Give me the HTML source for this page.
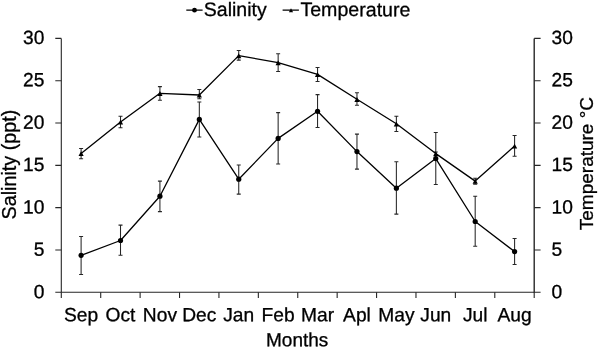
<!DOCTYPE html><html><head><meta charset="utf-8"><title>Salinity and Temperature</title>
<style>html,body{margin:0;padding:0;background:#fff}svg{display:block}text{font-family:"Liberation Sans",Arial,sans-serif;font-size:18.8px;fill:#000;stroke:#000;stroke-width:0.3px}</style></head><body>
<svg width="600" height="350" viewBox="0 0 600 350">
<rect width="600" height="350" fill="#fff"/>
<g stroke="#262626" stroke-width="1.1" fill="none">
<path d="M61.3 38.4 V292.3 H534.2"/>
<path d="M534.2 292.8 V38.4" stroke="#181818" stroke-width="1.3"/>
<path d="M55.3 292.3 H61.3 M534.2 292.3 H540.6"/>
<path d="M55.3 249.983 H61.3 M534.2 249.983 H540.6"/>
<path d="M55.3 207.667 H61.3 M534.2 207.667 H540.6"/>
<path d="M55.3 165.35 H61.3 M534.2 165.35 H540.6"/>
<path d="M55.3 123.033 H61.3 M534.2 123.033 H540.6"/>
<path d="M55.3 80.7167 H61.3 M534.2 80.7167 H540.6"/>
<path d="M55.3 38.4 H61.3 M534.2 38.4 H540.6"/>
<path d="M61.3 292.3 V298"/>
<path d="M100.708 292.3 V298"/>
<path d="M140.117 292.3 V298"/>
<path d="M179.525 292.3 V298"/>
<path d="M218.933 292.3 V298"/>
<path d="M258.342 292.3 V298"/>
<path d="M297.75 292.3 V298"/>
<path d="M337.158 292.3 V298"/>
<path d="M376.567 292.3 V298"/>
<path d="M415.975 292.3 V298"/>
<path d="M455.383 292.3 V298"/>
<path d="M494.792 292.3 V298"/>
<path d="M534.2 292.3 V298"/>
</g>
<g stroke="#262626" stroke-width="1.05" fill="none">
<path d="M81.1042 236.4 V274.4 M79.1042 236.4 H83.1042 M79.1042 274.4 H83.1042"/>
<path d="M120.513 225.1 V255.3 M118.513 225.1 H122.513 M118.513 255.3 H122.513"/>
<path d="M159.921 181.1 V211.6 M157.921 181.1 H161.921 M157.921 211.6 H161.921"/>
<path d="M199.329 101.9 V136.9 M197.329 101.9 H201.329 M197.329 136.9 H201.329"/>
<path d="M238.738 164.9 V194.1 M236.738 164.9 H240.738 M236.738 194.1 H240.738"/>
<path d="M278.146 112.6 V164 M276.146 112.6 H280.146 M276.146 164 H280.146"/>
<path d="M317.554 94.6 V127.4 M315.554 94.6 H319.554 M315.554 127.4 H319.554"/>
<path d="M356.963 134.1 V169.1 M354.963 134.1 H358.963 M354.963 169.1 H358.963"/>
<path d="M396.371 161.7 V214.1 M394.371 161.7 H398.371 M394.371 214.1 H398.371"/>
<path d="M435.779 132.4 V184.4 M433.779 132.4 H437.779 M433.779 184.4 H437.779"/>
<path d="M475.188 196.3 V246.3 M473.188 196.3 H477.188 M473.188 246.3 H477.188"/>
<path d="M514.596 238.5 V264.4 M512.596 238.5 H516.596 M512.596 264.4 H516.596"/>
<path d="M81.1042 148.4 V158.7 M79.1042 148.4 H83.1042 M79.1042 158.7 H83.1042"/>
<path d="M120.513 116.3 V127.8 M118.513 116.3 H122.513 M118.513 127.8 H122.513"/>
<path d="M159.921 86.6 V100.2 M157.921 86.6 H161.921 M157.921 100.2 H161.921"/>
<path d="M199.329 89.4 V98.7 M197.329 89.4 H201.329 M197.329 98.7 H201.329"/>
<path d="M238.738 50.5 V60.1 M236.738 50.5 H240.738 M236.738 60.1 H240.738"/>
<path d="M278.146 53.8 V71.4 M276.146 53.8 H280.146 M276.146 71.4 H280.146"/>
<path d="M317.554 67.4 V81.5 M315.554 67.4 H319.554 M315.554 81.5 H319.554"/>
<path d="M356.963 92.7 V105.2 M354.963 92.7 H358.963 M354.963 105.2 H358.963"/>
<path d="M396.371 116.3 V131.4 M394.371 116.3 H398.371 M394.371 131.4 H398.371"/>
<path d="M435.779 152 V155.2 M433.779 152 H437.779 M433.779 155.2 H437.779"/>
<path d="M475.188 178.3 V184.3 M473.188 178.3 H477.188 M473.188 184.3 H477.188"/>
<path d="M514.596 135.4 V156.3 M512.596 135.4 H516.596 M512.596 156.3 H516.596"/>
</g>
<polyline points="81.1042,255.3 120.513,240.5 159.921,196.2 199.329,119.4 238.738,179.2 278.146,138.4 317.554,111.3 356.963,151.6 396.371,188.2 435.779,158.6 475.188,221.5 514.596,251.6" fill="none" stroke="#000" stroke-width="1.3" stroke-linejoin="round"/>
<polyline points="81.1042,153.5 120.513,122 159.921,93.3 199.329,95 238.738,55.6 278.146,62.6 317.554,74.4 356.963,99.3 396.371,123.8 435.779,153.6 475.188,181.1 514.596,146" fill="none" stroke="#000" stroke-width="1.3" stroke-linejoin="round"/>
<circle cx="81.1042" cy="255.3" r="2.6" fill="#000"/>
<circle cx="120.513" cy="240.5" r="2.6" fill="#000"/>
<circle cx="159.921" cy="196.2" r="2.6" fill="#000"/>
<circle cx="199.329" cy="119.4" r="2.6" fill="#000"/>
<circle cx="238.738" cy="179.2" r="2.6" fill="#000"/>
<circle cx="278.146" cy="138.4" r="2.6" fill="#000"/>
<circle cx="317.554" cy="111.3" r="2.6" fill="#000"/>
<circle cx="356.963" cy="151.6" r="2.6" fill="#000"/>
<circle cx="396.371" cy="188.2" r="2.6" fill="#000"/>
<circle cx="435.779" cy="158.6" r="2.6" fill="#000"/>
<circle cx="475.188" cy="221.5" r="2.6" fill="#000"/>
<circle cx="514.596" cy="251.6" r="2.6" fill="#000"/>
<path d="M81.1042 151.2 L83.7042 156.1 L78.5042 156.1 Z" fill="#000"/>
<path d="M120.513 119.7 L123.112 124.6 L117.913 124.6 Z" fill="#000"/>
<path d="M159.921 91 L162.521 95.9 L157.321 95.9 Z" fill="#000"/>
<path d="M199.329 92.7 L201.929 97.6 L196.729 97.6 Z" fill="#000"/>
<path d="M238.738 53.3 L241.338 58.2 L236.138 58.2 Z" fill="#000"/>
<path d="M278.146 60.3 L280.746 65.2 L275.546 65.2 Z" fill="#000"/>
<path d="M317.554 72.1 L320.154 77 L314.954 77 Z" fill="#000"/>
<path d="M356.963 97 L359.563 101.9 L354.363 101.9 Z" fill="#000"/>
<path d="M396.371 121.5 L398.971 126.4 L393.771 126.4 Z" fill="#000"/>
<path d="M435.779 151.3 L438.379 156.2 L433.179 156.2 Z" fill="#000"/>
<path d="M475.188 178.8 L477.788 183.7 L472.588 183.7 Z" fill="#000"/>
<path d="M514.596 143.7 L517.196 148.6 L511.996 148.6 Z" fill="#000"/>
<path d="M186.3 10.15 H202.6 M282.6 10.15 H298.9" stroke="#000" stroke-width="1.25"/>
<circle cx="194.5" cy="10.15" r="2.4" fill="#000"/>
<path d="M291 8.2 L293.1 12.3 L288.9 12.3 Z" fill="#000"/>
<text transform="matrix(1 0.0005 0 1 203.80 16.10)" style="font-size:19.5px">Salinity</text>
<text transform="matrix(1 0.0005 0 1 300.40 16.10)" style="font-size:19.6px">Temperature</text>
<text transform="matrix(1 0.0005 0 1 44.40 298.20)" text-anchor="end" style="font-size:19.2px">0</text>
<text transform="matrix(1 0.0005 0 1 551.55 298.20)" style="font-size:19.2px">0</text>
<text transform="matrix(1 0.0005 0 1 44.40 255.83)" text-anchor="end" style="font-size:19.2px">5</text>
<text transform="matrix(1 0.0005 0 1 551.55 255.83)" style="font-size:19.2px">5</text>
<text transform="matrix(1 0.0005 0 1 44.40 213.46)" text-anchor="end" style="font-size:19.2px">10</text>
<text transform="matrix(1 0.0005 0 1 551.55 213.46)" style="font-size:19.2px">10</text>
<text transform="matrix(1 0.0005 0 1 44.40 171.09)" text-anchor="end" style="font-size:19.2px">15</text>
<text transform="matrix(1 0.0005 0 1 551.55 171.09)" style="font-size:19.2px">15</text>
<text transform="matrix(1 0.0005 0 1 44.40 128.72)" text-anchor="end" style="font-size:19.2px">20</text>
<text transform="matrix(1 0.0005 0 1 551.55 128.72)" style="font-size:19.2px">20</text>
<text transform="matrix(1 0.0005 0 1 44.40 86.35)" text-anchor="end" style="font-size:19.2px">25</text>
<text transform="matrix(1 0.0005 0 1 551.55 86.35)" style="font-size:19.2px">25</text>
<text transform="matrix(1 0.0005 0 1 44.40 43.98)" text-anchor="end" style="font-size:19.2px">30</text>
<text transform="matrix(1 0.0005 0 1 551.55 43.98)" style="font-size:19.2px">30</text>
<text transform="matrix(1 0.0005 0 1 81.10 321.30)" text-anchor="middle" style="font-size:19.2px">Sep</text>
<text transform="matrix(1 0.0005 0 1 120.51 321.30)" text-anchor="middle" style="font-size:19.2px">Oct</text>
<text transform="matrix(1 0.0005 0 1 159.92 321.30)" text-anchor="middle" style="font-size:19.2px">Nov</text>
<text transform="matrix(1 0.0005 0 1 199.33 321.30)" text-anchor="middle" style="font-size:19.2px">Dec</text>
<text transform="matrix(1 0.0005 0 1 238.74 321.30)" text-anchor="middle" style="font-size:19.2px">Jan</text>
<text transform="matrix(1 0.0005 0 1 278.15 321.30)" text-anchor="middle" style="font-size:19.2px">Feb</text>
<text transform="matrix(1 0.0005 0 1 317.55 321.30)" text-anchor="middle" style="font-size:19.2px">Mar</text>
<text transform="matrix(1 0.0005 0 1 356.96 321.30)" text-anchor="middle" style="font-size:19.2px">Apl</text>
<text transform="matrix(1 0.0005 0 1 396.37 321.30)" text-anchor="middle" style="font-size:19.2px">May</text>
<text transform="matrix(1 0.0005 0 1 435.78 321.30)" text-anchor="middle" style="font-size:19.2px">Jun</text>
<text transform="matrix(1 0.0005 0 1 475.19 321.30)" text-anchor="middle" style="font-size:19.2px">Jul</text>
<text transform="matrix(1 0.0005 0 1 514.60 321.30)" text-anchor="middle" style="font-size:19.2px">Aug</text>
<text transform="matrix(1 0.0005 0 1 297.20 346.20)" text-anchor="middle" style="font-size:19px">Months</text>
<text transform="translate(16.2 164.6) rotate(-90)" text-anchor="middle" style="font-size:19.8px">Salinity (ppt)</text>
<text transform="translate(592.6 163.6) rotate(-90)" text-anchor="middle" style="font-size:19px">Temperature °C</text>
</svg></body></html>
